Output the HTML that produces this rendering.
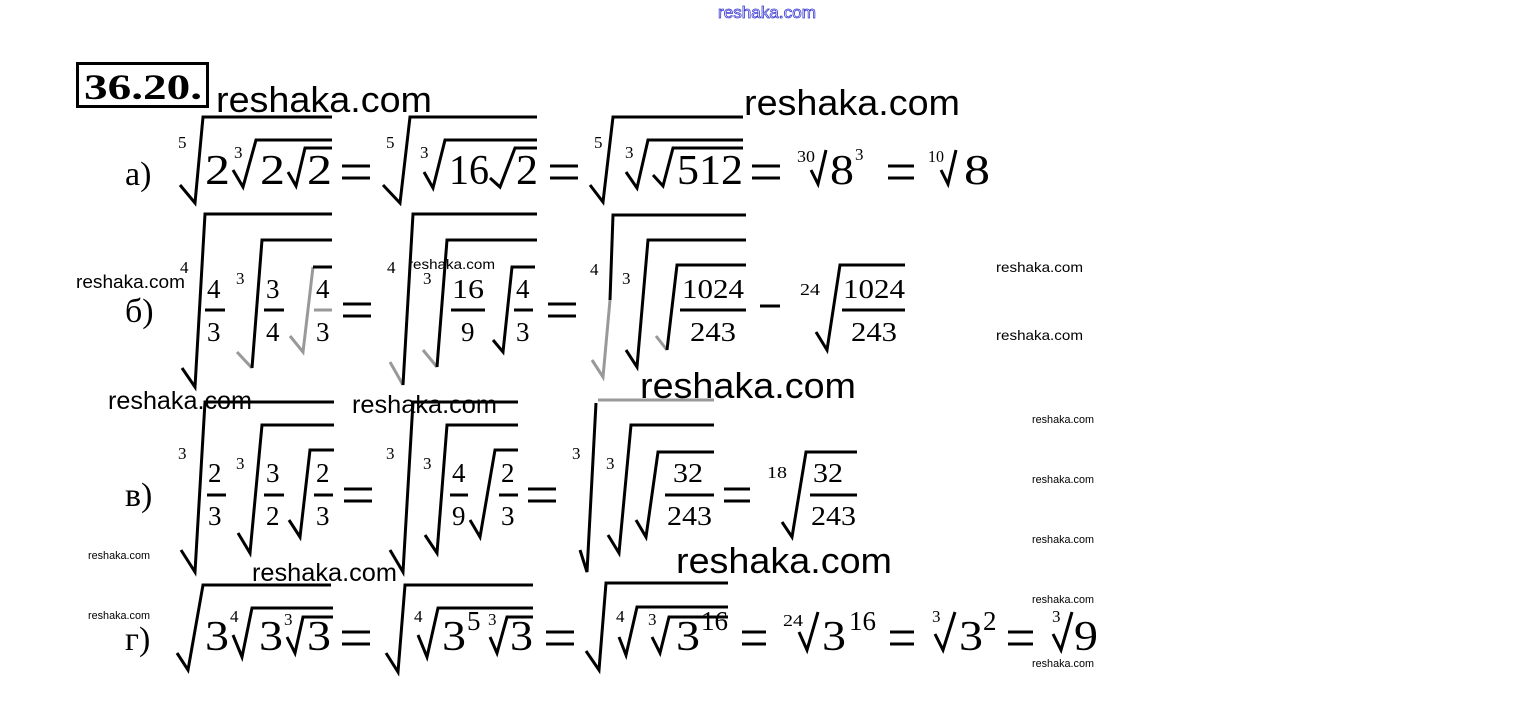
<!DOCTYPE html>
<html><head><meta charset="utf-8"><style>
html,body{margin:0;padding:0;background:#fff;width:1532px;height:710px;overflow:hidden}
svg{display:block}
.m{font-family:"Liberation Serif",serif;font-size:42px;fill:#000}
.f{font-family:"Liberation Serif",serif;font-size:27px;fill:#000}
.i{font-family:"Liberation Serif",serif;font-size:17px;fill:#000}
.w{font-family:"Liberation Sans",sans-serif;fill:#000}
.r{fill:none;stroke:#000;stroke-width:3;stroke-linejoin:miter}
.g{fill:none;stroke:#999;stroke-width:3}
</style></head><body>
<svg width="1532" height="710" viewBox="0 0 1532 710" xmlns="http://www.w3.org/2000/svg">
<text x="718" y="18" font-family="Liberation Sans,sans-serif" font-size="17" fill="#fff" stroke="#3a3ad0" stroke-width="0.8" textLength="98" lengthAdjust="spacingAndGlyphs">reshaka.com</text>

<rect x="77.5" y="63.5" width="130" height="43" fill="none" stroke="#000" stroke-width="3"/>
<text x="84" y="99" font-family="Liberation Serif,serif" font-weight="bold" font-size="36" textLength="118" lengthAdjust="spacingAndGlyphs">36.20.</text>

<!-- watermarks -->
<text class="w" x="216" y="112" font-size="36" textLength="216" lengthAdjust="spacingAndGlyphs">reshaka.com</text>
<text class="w" x="744" y="115" font-size="36" textLength="216" lengthAdjust="spacingAndGlyphs">reshaka.com</text>
<text class="w" x="76" y="288" font-size="18" textLength="109" lengthAdjust="spacingAndGlyphs">reshaka.com</text>
<text class="w" x="408" y="269" font-size="14" textLength="87" lengthAdjust="spacingAndGlyphs">reshaka.com</text>
<text class="w" x="996" y="272" font-size="14" textLength="87" lengthAdjust="spacingAndGlyphs">reshaka.com</text>
<text class="w" x="996" y="340" font-size="14" textLength="87" lengthAdjust="spacingAndGlyphs">reshaka.com</text>
<text class="w" x="108" y="409" font-size="25" textLength="144" lengthAdjust="spacingAndGlyphs">reshaka.com</text>
<text class="w" x="352" y="413" font-size="25" textLength="145" lengthAdjust="spacingAndGlyphs">reshaka.com</text>
<text class="w" x="640" y="398" font-size="36" textLength="216" lengthAdjust="spacingAndGlyphs">reshaka.com</text>
<text class="w" x="1032" y="423" font-size="11" textLength="62" lengthAdjust="spacingAndGlyphs">reshaka.com</text>
<text class="w" x="1032" y="483" font-size="11" textLength="62" lengthAdjust="spacingAndGlyphs">reshaka.com</text>
<text class="w" x="1032" y="543" font-size="11" textLength="62" lengthAdjust="spacingAndGlyphs">reshaka.com</text>
<text class="w" x="1032" y="603" font-size="11" textLength="62" lengthAdjust="spacingAndGlyphs">reshaka.com</text>
<text class="w" x="1032" y="667" font-size="11" textLength="62" lengthAdjust="spacingAndGlyphs">reshaka.com</text>
<text class="w" x="88" y="559" font-size="11" textLength="62" lengthAdjust="spacingAndGlyphs">reshaka.com</text>
<text class="w" x="88" y="619" font-size="11" textLength="62" lengthAdjust="spacingAndGlyphs">reshaka.com</text>
<text class="w" x="252" y="581" font-size="25" textLength="145" lengthAdjust="spacingAndGlyphs">reshaka.com</text>
<text class="w" x="676" y="573" font-size="36" textLength="216" lengthAdjust="spacingAndGlyphs">reshaka.com</text>

<!-- ROW a -->
<text x="125" y="185" font-family="Liberation Serif,serif" font-size="34">а)</text>
<text class="i" x="178" y="148">5</text>
<path class="r" d="M180,185 L195,203 L203,117 H332"/>
<text class="m" x="205" y="184" textLength="25" lengthAdjust="spacingAndGlyphs">2</text>
<text class="i" x="234" y="158">3</text>
<path class="r" d="M233,170 L243,187 L256,140 H332"/>
<text class="m" x="260" y="184" textLength="25" lengthAdjust="spacingAndGlyphs">2</text>
<path class="r" d="M288,172 L296,186 L305,148 H332"/>
<text class="m" x="307" y="184" textLength="25" lengthAdjust="spacingAndGlyphs">2</text>
<path class="r" d="M342,166 H370 M342,178 H370"/>

<text class="i" x="386" y="148">5</text>
<path class="r" d="M383,185 L400,203 L410,117 H537"/>
<text class="i" x="420" y="158">3</text>
<path class="r" d="M424,172 L433,188 L445,140 H537"/>
<text class="m" x="449" y="184" textLength="40" lengthAdjust="spacingAndGlyphs">16</text>
<path class="r" d="M490,178 L500,187 L515,148 H537"/>
<text class="m" x="516" y="184" textLength="22" lengthAdjust="spacingAndGlyphs">2</text>
<path class="r" d="M550,166 H578 M550,178 H578"/>

<text class="i" x="594" y="148">5</text>
<path class="r" d="M590,185 L603,202 L613,117 H743"/>
<text class="i" x="625" y="158">3</text>
<path class="r" d="M626,172 L637,188 L648,140 H743"/>
<path class="r" d="M653,175 L663,186 L673,148 H743"/>
<text class="m" x="677" y="184" textLength="66" lengthAdjust="spacingAndGlyphs">512</text>
<path class="r" d="M752,166 H780 M752,178 H780"/>

<text class="i" x="797" y="162" textLength="18" lengthAdjust="spacingAndGlyphs">30</text>
<path class="r" d="M811,170 L818,184 L826,150"/>
<text class="m" x="830" y="184" textLength="24" lengthAdjust="spacingAndGlyphs">8</text>
<text class="i" x="855" y="160">3</text>
<path class="r" d="M888,166 H914 M888,178 H914"/>
<text class="i" x="928" y="162" textLength="16" lengthAdjust="spacingAndGlyphs">10</text>
<path class="r" d="M941,170 L948,184 L956,150"/>
<text class="m" x="964" y="184" textLength="26" lengthAdjust="spacingAndGlyphs">8</text>

<!-- ROW б -->
<text x="125" y="322" font-family="Liberation Serif,serif" font-size="34">б)</text>
<text class="i" x="180" y="273">4</text>
<path class="r" d="M182,368 L195,387 L205,214 H332"/>
<text class="f" x="207" y="298">4</text>
<path class="r" d="M205,310 H225"/>
<text class="f" x="207" y="341">3</text>
<text class="i" x="236" y="284" fill="#999">3</text>
<path class="g" d="M237,352 L252,368"/>
<path class="r" d="M252,368 L262,240 H332"/>
<text class="f" x="266" y="298">3</text>
<path class="r" d="M264,310 H284"/>
<text class="f" x="266" y="341">4</text>
<path class="g" d="M290,336 L303,352 L313,267"/>
<path class="r" d="M313,267 H332"/>
<text class="f" x="316" y="298" fill="#999">4</text>
<path class="g" d="M314,310 H332"/>
<text class="f" x="316" y="341" fill="#999">3</text>
<path class="r" d="M343,304 H371 M343,316 H371"/>

<text class="i" x="387" y="273">4</text>
<path class="g" d="M390,362 L403,385"/>
<path class="r" d="M403,385 L413,214 H537"/>
<text class="i" x="423" y="284">3</text>
<path class="g" d="M423,350 L437,367"/>
<path class="r" d="M437,367 L447,240 H537"/>
<text class="f" x="452" y="298" textLength="32" lengthAdjust="spacingAndGlyphs">16</text>
<path class="r" d="M451,310 H485"/>
<text class="f" x="461" y="341">9</text>
<path class="r" d="M493,340 L503,352 L512,267 H535"/>
<text class="f" x="516" y="298">4</text>
<path class="r" d="M514,310 H533"/>
<text class="f" x="516" y="341">3</text>
<path class="r" d="M548,304 H576 M548,316 H576"/>

<text class="i" x="590" y="275">4</text>
<path class="g" d="M592,360 L603,377 L610,300"/>
<path class="r" d="M610,300 L613,215 H746"/>
<text class="i" x="622" y="284">3</text>
<path class="r" d="M626,350 L637,367 L648,240 H746"/>
<path class="g" d="M656,336 L667,350"/>
<path class="r" d="M667,350 L677,265 H746"/>
<text class="f" x="682" y="298" textLength="62" lengthAdjust="spacingAndGlyphs">1024</text>
<path class="r" d="M680,310 H746"/>
<text class="f" x="690" y="341" textLength="46" lengthAdjust="spacingAndGlyphs" fill="#555">243</text>
<path class="r" d="M760,306 H780"/>
<text class="i" x="800" y="295" textLength="20" lengthAdjust="spacingAndGlyphs">24</text>
<path class="r" d="M816,332 L827,350 L840,265 H905"/>
<text class="f" x="843" y="298" textLength="62" lengthAdjust="spacingAndGlyphs">1024</text>
<path class="r" d="M842,310 H905"/>
<text class="f" x="851" y="341" textLength="46" lengthAdjust="spacingAndGlyphs" fill="#777">243</text>

<!-- ROW в -->
<text x="125" y="506" font-family="Liberation Serif,serif" font-size="34">в)</text>
<text class="i" x="178" y="459">3</text>
<path class="r" d="M181,550 L195,572 L205,402 H334"/>
<text class="f" x="208" y="482">2</text>
<path class="r" d="M207,495 H226"/>
<text class="f" x="208" y="525">3</text>
<text class="i" x="236" y="469">3</text>
<path class="r" d="M238,533 L250,553 L262,425 H334"/>
<text class="f" x="266" y="482">3</text>
<path class="r" d="M264,495 H284"/>
<text class="f" x="266" y="525">2</text>
<path class="r" d="M289,520 L300,537 L310,450 H334"/>
<text class="f" x="316" y="482">2</text>
<path class="r" d="M314,495 H333"/>
<text class="f" x="316" y="525">3</text>
<path class="r" d="M344,489 H372 M344,501 H372"/>

<text class="i" x="386" y="459">3</text>
<path class="r" d="M390,550 L403,572 L413,402 H518"/>
<text class="i" x="423" y="469">3</text>
<path class="r" d="M425,535 L437,553 L447,425 H518"/>
<text class="f" x="452" y="482">4</text>
<path class="r" d="M450,495 H468"/>
<text class="f" x="452" y="525">9</text>
<path class="r" d="M470,520 L480,537 L495,450 H518"/>
<text class="f" x="501" y="482">2</text>
<path class="r" d="M499,495 H518"/>
<text class="f" x="501" y="525">3</text>
<path class="r" d="M528,489 H556 M528,501 H556"/>

<text class="i" x="572" y="459">3</text>
<path class="r" d="M580,550 L587,572 L596,403"/>
<path class="g" d="M598,400 H714"/>
<text class="i" x="606" y="469">3</text>
<path class="r" d="M608,535 L619,553 L631,425 H714"/>
<path class="r" d="M636,520 L646,537 L658,452 H714"/>
<text class="f" x="673" y="482" textLength="30" lengthAdjust="spacingAndGlyphs">32</text>
<path class="r" d="M665,495 H714"/>
<text class="f" x="667" y="525" textLength="45" lengthAdjust="spacingAndGlyphs">243</text>
<path class="r" d="M724,489 H750 M724,501 H750"/>
<text class="i" x="767" y="478" textLength="20" lengthAdjust="spacingAndGlyphs">18</text>
<path class="r" d="M782,522 L792,537 L806,452 H857"/>
<text class="f" x="813" y="482" textLength="30" lengthAdjust="spacingAndGlyphs">32</text>
<path class="r" d="M810,495 H857"/>
<text class="f" x="811" y="525" textLength="45" lengthAdjust="spacingAndGlyphs">243</text>

<!-- ROW г -->
<text x="125" y="650" font-family="Liberation Serif,serif" font-size="34">г)</text>
<path class="r" d="M177,653 L188,670 L203,585 H331"/>
<text class="m" x="205" y="650" textLength="24" lengthAdjust="spacingAndGlyphs">3</text>
<text class="i" x="230" y="622">4</text>
<path class="r" d="M233,635 L242,657 L252,608 H333"/>
<text class="m" x="259" y="650" textLength="24" lengthAdjust="spacingAndGlyphs">3</text>
<text class="i" x="284" y="625">3</text>
<path class="r" d="M287,637 L295,653 L303,617 H333"/>
<text class="m" x="307" y="650" textLength="24" lengthAdjust="spacingAndGlyphs">3</text>
<path class="r" d="M342,632 H370 M342,644 H370"/>

<path class="r" d="M386,653 L398,672 L405,585 H533"/>
<text class="i" x="414" y="622">4</text>
<path class="r" d="M418,635 L427,657 L438,608 H533"/>
<text class="m" x="442" y="650" textLength="24" lengthAdjust="spacingAndGlyphs">3</text>
<text class="f" x="467" y="630">5</text>
<text class="i" x="488" y="625">3</text>
<path class="r" d="M490,637 L497,653 L507,617 H533"/>
<text class="m" x="510" y="650" textLength="23" lengthAdjust="spacingAndGlyphs">3</text>
<path class="r" d="M546,632 H574 M546,644 H574"/>

<path class="r" d="M586,651 L599,670 L606,583 H728"/>
<text class="i" x="616" y="622">4</text>
<path class="r" d="M619,637 L626,655 L637,607 H728"/>
<text class="i" x="648" y="625">3</text>
<path class="r" d="M652,637 L660,653 L669,617 H728"/>
<text class="m" x="676" y="650" textLength="24" lengthAdjust="spacingAndGlyphs">3</text>
<text class="f" x="701" y="630" textLength="27" lengthAdjust="spacingAndGlyphs">16</text>
<path class="r" d="M742,632 H766 M742,644 H766"/>
<text class="i" x="783" y="626" textLength="20" lengthAdjust="spacingAndGlyphs">24</text>
<path class="r" d="M799,632 L807,650 L818,612"/>
<text class="m" x="822" y="650" textLength="24" lengthAdjust="spacingAndGlyphs">3</text>
<text class="f" x="849" y="630" textLength="27" lengthAdjust="spacingAndGlyphs">16</text>
<path class="r" d="M890,632 H914 M890,644 H914"/>
<text class="i" x="932" y="622">3</text>
<path class="r" d="M935,634 L943,650 L955,612"/>
<text class="m" x="959" y="650" textLength="24" lengthAdjust="spacingAndGlyphs">3</text>
<text class="f" x="983" y="630">2</text>
<path class="r" d="M1008,632 H1033 M1008,644 H1033"/>
<text class="i" x="1052" y="622">3</text>
<path class="r" d="M1053,634 L1061,650 L1072,612"/>
<text class="m" x="1074" y="650" textLength="24" lengthAdjust="spacingAndGlyphs">9</text>
</svg>
</body></html>
